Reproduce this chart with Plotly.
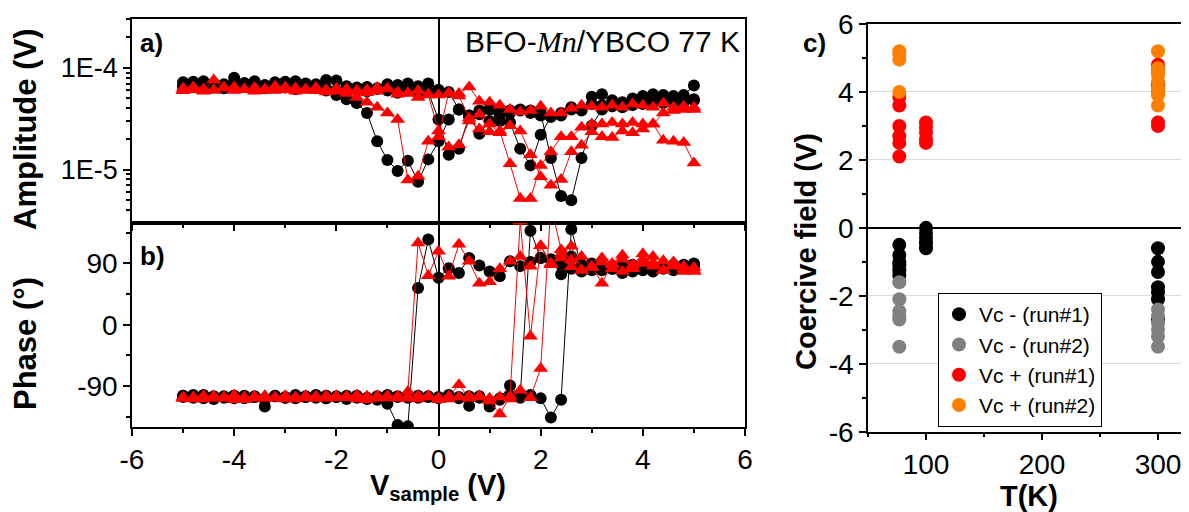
import plotly.graph_objects as go

# ---------------- data: panels a) and b) ----------------
V_UP = [-5.0, -4.8, -4.6, -4.4, -4.2, -4.0, -3.8, -3.6, -3.4, -3.2,
        -3.0, -2.8, -2.6, -2.4, -2.2, -2.0, -1.8, -1.6, -1.4, -1.2,
        -1.0, -0.8, -0.6, -0.4, -0.2, 0.0, 0.2, 0.4, 0.6, 0.8,
        1.0, 1.2, 1.4, 1.6, 1.8, 2.0, 2.2, 2.4, 2.6, 2.8,
        3.0, 3.2, 3.4, 3.6, 3.8, 4.0, 4.2, 4.4, 4.6, 4.8, 5.0]
V_DOWN = V_UP[::-1]

# amplitudes in units of 1E-5 V
amp_black_A = [7.2, 7.3, 7.4, 7.0, 6.9, 8.0, 7.1, 7.4, 6.8, 7.2,
               7.3, 7.4, 7.0, 6.9, 7.6, 7.5, 6.6, 6.4, 6.5, 6.3,
               6.9, 6.8, 7.0, 6.6, 7.0, 6.1, 5.8, 3.9, 3.4, 3.5,
               3.9, 3.0, 2.9, 1.6, 1.1, 2.2, 3.3, 3.6, 4.1, 3.9,
               5.2, 5.5, 4.8, 4.6, 5.0, 5.3, 5.5, 5.4, 5.3, 5.4, 6.7]
amp_black_B = [4.8, 4.6, 4.5, 4.5, 4.6, 4.4, 4.3, 4.1, 4.2, 4.3,
               4.4, 3.8, 3.9, 3.4, 3.3, 3.4, 3.8, 3.8, 3.8, 3.7,
               3.9, 3.8, 3.3, 3.9, 3.1, 1.9, 1.26, 0.76, 1.22, 0.97,
               1.24, 1.9, 3.6, 4.5, 4.9, 5.4, 6.0, 6.3, 6.5, 6.2,
               6.6, 6.4, 6.3, 6.5, 6.6, 6.8, 6.3, 6.5, 6.4, 6.6, 6.5]
amp_black_C = [6.6, 6.9, 6.5, 6.8, 6.4, 6.7, 6.5, 6.3, 6.6, 6.8,
               6.4, 6.2, 6.7, 6.5, 6.3, 6.0, 6.4, 6.1, 5.9, 6.2,
               6.0, 5.7, 6.0, 5.6, 5.8, 3.1, 1.4, 1.6, 3.4, 2.25,
               3.0, 3.4, 3.6, 3.9, 3.6, 3.6, 1.3, 0.55, 0.50, 1.3,
               2.7, 3.9, 4.2, 4.3, 4.5, 4.7, 4.9, 4.8, 4.7, 4.9, 4.9]
amp_red_D = [4.1, 4.2, 4.1, 4.5, 4.1, 4.3, 4.4, 4.1, 4.3, 4.1,
             4.2, 4.3, 4.0, 3.6, 3.6, 4.2, 3.8, 3.7, 3.9, 4.3,
             4.6, 4.7, 6.5, 5.6, 5.7, 2.1, 1.9, 0.86, 0.79, 3.1,
             3.6, 4.1, 4.6, 5.1, 5.6, 5.9, 6.0, 6.2, 6.0, 6.3,
             6.1, 6.2, 6.0, 6.3, 6.1, 6.2, 6.4, 6.0, 6.2, 6.1, 6.0]
amp_red_A = [6.3, 6.5, 6.0, 7.6, 6.3, 6.5, 6.1, 6.4, 6.2, 6.6,
             6.5, 6.3, 6.2, 6.4, 6.1, 6.3, 6.2, 6.0, 6.1, 6.4,
             6.3, 5.8, 5.7, 6.0, 5.5, 5.4, 5.6, 5.3, 3.2, 3.5,
             2.35, 2.4, 1.14, 0.52, 0.52, 1.1, 1.5, 2.1, 2.1, 2.6,
             2.8, 2.8, 2.9, 2.8, 2.9, 2.8, 2.8, 3.6, 3.8, 3.9, 3.9]
amp_red_C = [6.0, 6.2, 5.9, 6.1, 6.4, 6.0, 6.2, 5.9, 6.1, 6.0,
             6.2, 5.9, 6.1, 6.0, 5.8, 6.1, 5.9, 6.0, 5.7, 5.9,
             6.2, 5.5, 5.6, 5.1, 5.4, 2.4, 1.67, 1.75, 3.0, 2.5,
             2.8, 2.3, 2.7, 2.4, 1.4, 0.85, 0.70, 0.80, 1.5, 1.73,
             2.35, 2.1, 2.07, 2.4, 2.3, 2.5, 2.8, 1.94, 1.9, 1.85, 1.16]

# phases in degrees
ph_black_A = [-106, -103, -108, -105, -107, -104, -108, -106, -110, -105,
              -107, -104, -106, -103, -108, -106, -104, -107, -109, -105,
              -103, -106, -104, -107, -105, -106, -104, -108, -105, -107,
              -112, -108, -89, -105, 138, 98, 96, 74, 100, 88,
              80, 84, 82, 86, 78, 82, 86, 84, 80, 84, 86]
ph_black_B = [90, 84, 88, 82, 86, 80, 84, 76, 82, 80,
              86, 78, 82, 88, 95, 98, 92, 86, 93, 71,
              78, 87, 98, 76, 83, 69, 125, 54, -149, -147,
              -116, -106, -108, -104, -107, -105, -108, -104, -106, -103,
              -107, -105, -120, -106, -104, -108, -105, -107, -103, -106, -104]
ph_black_C = [-104, -107, -105, -109, -106, -104, -107, -105, -108, -104,
              -106, -108, -105, -107, -104, -106, -109, -105, -107, -110,
              -108, -105, -107, -104, -106, -108, -103, -106, -119, -105,
              -120, -110, -104, -107, -103, -108, -136, -110, 140, 85,
              90, 84, 86, 80, 88, 84, 78, 86, 82, 88, 88]
ph_red_D = [78, 82, 86, 80, 90, 95, 84, 96, 88, 98,
            84, 80, 115, 104, 88, 116, 86, 100, 93, 82,
            63, 61, 93, 118, 71, 108, 72, 120, -98, -106,
            -104, -108, -105, -103, -107, -106, -104, -108, -105, -107,
            -104, -106, -108, -105, -107, -103, -106, -108, -104, -107, -108]
ph_red_A = [-108, -106, -109, -105, -107, -110, -106, -108, -105, -107,
            -109, -106, -104, -108, -106, -107, -105, -109, -106, -104,
            -107, -105, -108, -104, -106, -110, -105, -88, -108, -106,
            -112, -131, -105, 152, -17, 116, 90, 98, 85, 100,
            86, 61, 90, 102, 82, 90, 100, 80, 92, 78, 84]
ph_red_C = [-106, -109, -107, -105, -108, -106, -110, -107, -104, -108,
            -106, -109, -107, -105, -108, -104, -106, -108, -110, -106,
            -105, -108, -106, -109, -104, -107, -109, -106, -105, -104,
            -108, -106, -109, -96, -107, -64, 175, 110, 95, 80,
            84, 92, 82, 78, 88, 104, 86, 94, 88, 86, 80]

# ---------------- data: panel c) ----------------
T_vcm_run1 = [77, 77, 77, 77, 77, 77, 100, 100, 100, 100, 100, 300, 300, 300, 300, 300, 300, 300]
V_vcm_run1 = [-0.5, -0.8, -1.0, -1.1, -1.25, -1.4, 0.0, -0.15, -0.3, -0.45, -0.6,
              -0.6, -1.0, -1.3, -1.75, -1.9, -2.1, -2.7]
T_vcm_run2 = [77, 77, 77, 77, 77, 77, 300, 300, 300, 300, 300, 300]
V_vcm_run2 = [-1.6, -2.1, -2.45, -2.6, -2.7, -3.5, -2.4, -2.6, -2.8, -3.0, -3.2, -3.5]
T_vcp_run1 = [77, 77, 77, 77, 77, 77, 100, 100, 100, 100, 100, 300, 300, 300, 300, 300, 300]
V_vcp_run1 = [3.85, 3.6, 3.0, 2.7, 2.5, 2.1, 3.1, 2.95, 2.8, 2.6, 2.5, 4.8, 4.6, 4.2, 4.0, 3.1, 3.0]
T_vcp_run2 = [77, 77, 77, 77, 300, 300, 300, 300, 300, 300, 300, 300, 300]
V_vcp_run2 = [5.2, 5.1, 4.95, 4.0, 5.2, 4.7, 4.6, 4.5, 4.3, 4.1, 4.0, 3.9, 3.6]

x_ticks_ab = [-6, -4, -2, 0, 2, 4, 6]
x_ticktext_ab = ["-6", "-4", "-2", "0", "2", "4", "6"]
amp_ticks = [1e-5, 1e-4]
amp_ticktext = ["1E-5", "1E-4"]
amp_minor = [4e-6, 5e-6, 6e-6, 7e-6, 8e-6, 9e-6,
             2e-5, 3e-5, 4e-5, 5e-5, 6e-5, 7e-5, 8e-5, 9e-5, 2e-4, 3e-4]
ph_ticks = [-90, 0, 90]
ph_ticktext = ["-90", "0", "90"]
c_yticks = [-6, -4, -2, 0, 2, 4, 6]
c_yticktext = ["-6", "-4", "-2", "0", "2", "4", "6"]
c_xticks = [100, 200, 300]

FONT = "Liberation Sans, Arial, sans-serif"
BLACK = "#000000"
RED = "#ff0000"
GRAY = "#808080"
ORANGE = "#ff8000"

# the page body has an 8 px margin; the figure is sized to fit the window
OFF = 8
FW, FH = 1189 - OFF, 512 - OFF


def px(xp):
    return (xp - OFF) / FW


def py(yp):
    return 1 - (yp - OFF) / FH


fig = go.Figure()


def e5(vals):
    return [v * 1e-5 for v in vals]


loops = [
    (V_UP, amp_black_A, ph_black_A, BLACK, "circle", 12),
    (V_DOWN, amp_black_B, ph_black_B, BLACK, "circle", 12),
    (V_UP, amp_black_C, ph_black_C, BLACK, "circle", 12),
    (V_DOWN, amp_red_D, ph_red_D, RED, "triangle-up", 13),
    (V_UP, amp_red_A, ph_red_A, RED, "triangle-up", 13),
    (V_UP, amp_red_C, ph_red_C, RED, "triangle-up", 13),
]
for vx, amp, ph, col, sym, sz in loops:
    fig.add_trace(go.Scatter(x=vx, y=e5(amp), mode="lines+markers", xaxis="x", yaxis="y",
                             line=dict(color=col, width=1),
                             marker=dict(color=col, symbol=sym, size=sz, line=dict(width=0)),
                             showlegend=False))
    fig.add_trace(go.Scatter(x=vx, y=ph, mode="lines+markers", xaxis="x2", yaxis="y2",
                             line=dict(color=col, width=1),
                             marker=dict(color=col, symbol=sym, size=sz, line=dict(width=0)),
                             showlegend=False))

for T, Vc, col, name in [(T_vcm_run1, V_vcm_run1, BLACK, "Vc - (run#1)"),
                         (T_vcm_run2, V_vcm_run2, GRAY, "Vc - (run#2)"),
                         (T_vcp_run1, V_vcp_run1, RED, "Vc + (run#1)"),
                         (T_vcp_run2, V_vcp_run2, ORANGE, "Vc + (run#2)")]:
    fig.add_trace(go.Scatter(x=T, y=Vc, mode="markers", xaxis="x3", yaxis="y3", name=name,
                             marker=dict(color=col, size=14, line=dict(width=0))))

axis_common = dict(showline=True, linecolor=BLACK, linewidth=1.5, mirror=True,
                   ticks="outside", ticklen=7, tickwidth=1.5, tickcolor=BLACK,
                   showgrid=False, automargin=False,
                   tickfont=dict(family=FONT, size=28, color=BLACK))
minor_common = dict(ticks="outside", ticklen=4, tickwidth=1.5, tickcolor=BLACK, showgrid=False)

XA = [px(132), px(745)]
fig.update_layout(
    width=FW, height=FH,
    margin=dict(l=0, r=0, t=0, b=0, pad=0, autoexpand=False),
    paper_bgcolor="white", plot_bgcolor="white",
    font=dict(family=FONT, color=BLACK),
    xaxis=dict(axis_common, domain=XA, anchor="y", range=[-6, 6], tickvals=x_ticks_ab,
               ticktext=x_ticktext_ab, showticklabels=False,
               zeroline=True, zerolinecolor=BLACK, zerolinewidth=1.5,
               minor=dict(minor_common, tickvals=[-5, -3, -1, 1, 3, 5])),
    yaxis=dict(axis_common, domain=[py(222.5), py(19)], anchor="x", type="log",
               range=[-5.52, -3.52], tickvals=amp_ticks, ticktext=amp_ticktext,
               tickfont=dict(family=FONT, size=27, color=BLACK), zeroline=False,
               minor=dict(minor_common, tickvals=amp_minor)),
    xaxis2=dict(axis_common, domain=XA, anchor="y2", range=[-6, 6], tickvals=x_ticks_ab,
                ticktext=x_ticktext_ab, zeroline=True, zerolinecolor=BLACK, zerolinewidth=1.5,
                minor=dict(minor_common, tickvals=[-5, -3, -1, 1, 3, 5])),
    yaxis2=dict(axis_common, domain=[py(427), py(222.5)], anchor="x2", range=[-150, 150],
                tickvals=ph_ticks, ticktext=ph_ticktext, zeroline=False,
                minor=dict(minor_common, tickvals=[-135, -45, 45, 135])),
    xaxis3=dict(axis_common, domain=[px(868), px(1187)], anchor="y3", range=[50, 325],
                tickvals=c_xticks, zeroline=False,
                minor=dict(minor_common, tickvals=[50, 150, 250])),
    yaxis3=dict(axis_common, domain=[py(431.7), py(24)], anchor="x3", range=[-6, 6],
                tickvals=c_yticks, ticktext=c_yticktext,
                showgrid=True, gridcolor="#d9d9d9", gridwidth=1,
                zeroline=True, zerolinecolor=BLACK, zerolinewidth=1.5,
                minor=dict(minor_common, tickvals=[-5, -3, -1, 1, 3, 5])),
    legend=dict(x=px(938), y=py(293), xanchor="left", yanchor="top",
                bgcolor="white", bordercolor=BLACK, borderwidth=1,
                font=dict(family=FONT, size=21, color=BLACK), itemsizing="trace"),
)

annots = [
    dict(text="<b>a)</b>", x=151, y=43, size=26),
    dict(text="<b>b)</b>", x=152, y=256, size=26),
    dict(text="<b>c)</b>", x=815, y=43, size=26),
    dict(text="<b>Amplitude (V)</b>", x=25, y=129, size=31, angle=-90),
    dict(text="<b>Phase (°)</b>", x=25, y=344, size=31, angle=-90),
    dict(text="<b>Coercive field (V)</b>", x=806, y=252, size=29, angle=-90),
    dict(text="<b>T(K)</b>", x=1029, y=496, size=29),
    dict(text="<b>V<sub>sample</sub> (V)</b>", x=438, y=487, size=29),
]
for a in annots:
    fig.add_annotation(text=a["text"], x=px(a["x"]), y=py(a["y"]), xref="paper", yref="paper",
                       showarrow=False, textangle=a.get("angle", 0),
                       xanchor="center", yanchor="middle",
                       font=dict(family=FONT, size=a["size"], color=BLACK))

fig.add_annotation(text="BFO-<span style=\"font-family:'Liberation Serif', 'Times New Roman', serif\"><i>Mn</i></span>/YBCO 77 K",
                   x=px(742), y=py(42), xref="paper", yref="paper", showarrow=False,
                   xanchor="right", yanchor="middle",
                   font=dict(family=FONT, size=30, color=BLACK))

fig.write_html("out.html")
